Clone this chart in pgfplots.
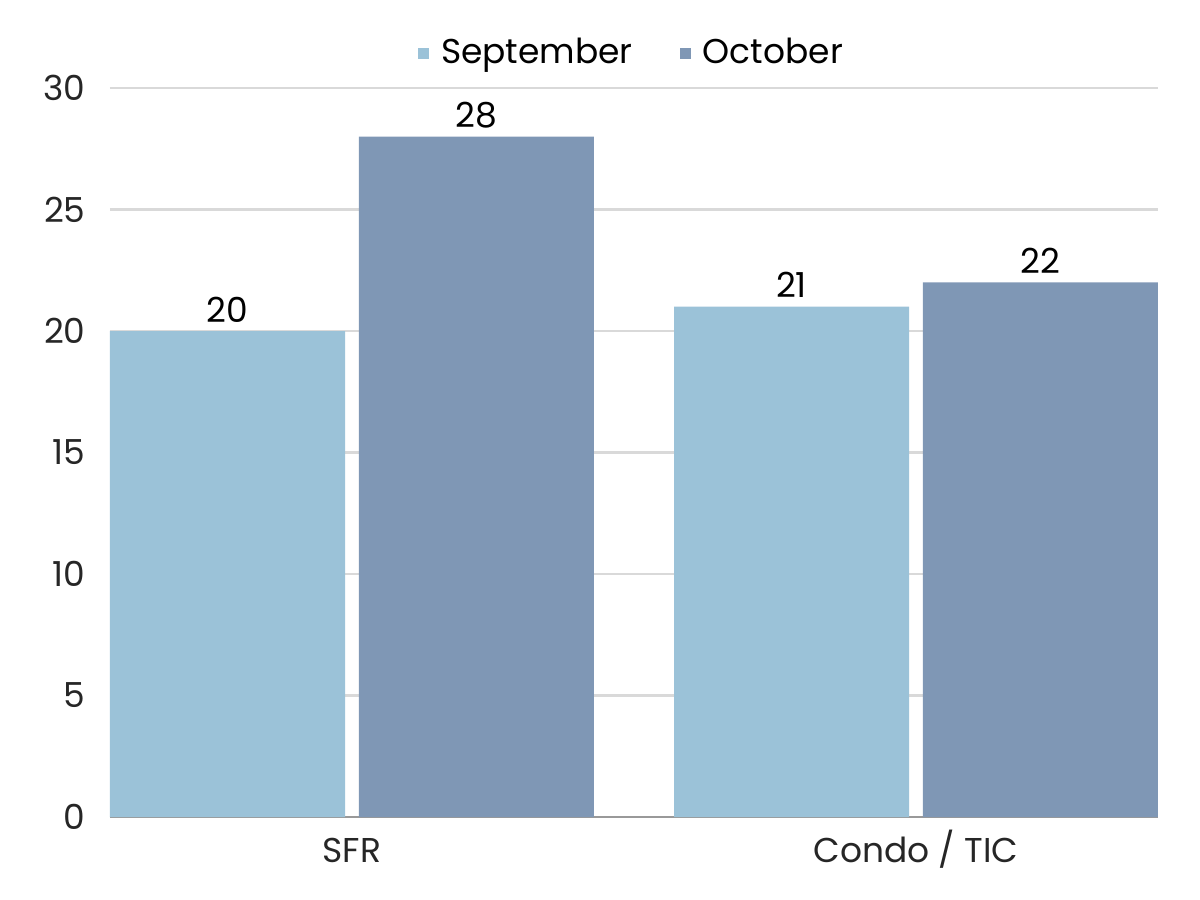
\documentclass[border=0pt]{standalone}
\usepackage{fontspec}
\setmainfont{Poppins}
\usepackage{pgfplots}
\pgfplotsset{compat=1.18}
\definecolor{sepc}{HTML}{9BC2D8}
\definecolor{octc}{HTML}{7F97B5}
\begin{document}
\begin{tikzpicture}
\begin{axis}[name=ax, scale only axis, width=10.48cm, height=7.29cm,
  xmin=-0.429, xmax=1.429, ymin=0, ymax=30,
  ytick={0,5,...,30}, xtick={0,1}, xticklabels={SFR, Condo / TIC},
  ymajorgrids, grid style={draw=black!15, line width=0.6pt},
  axis lines=left, y axis line style={draw=none}, x axis line style={draw=black!40, line width=0.8pt, -},
  major tick length=0pt,
  /pgf/number format/assume math mode=true,
  tick label style={font=\fontsize{9.8}{12}\selectfont, text=black!85},
  yticklabel style={xshift=-0.12cm},
  xticklabel style={yshift=-0.07cm, text height=0.75em, text depth=0.25em},
  ybar, bar width=0.4167,
  nodes near coords, every node near coord/.append style={font=\fontsize{9.8}{12}\selectfont, text=black, yshift=-1pt},
  legend style={at={(0.5,1)}, anchor=south, yshift=0.04cm, draw=none, fill=none, legend columns=2,
    font=\fontsize{9.8}{12}\selectfont,
    /tikz/every even column/.append style={column sep=0.4cm}},
  legend image code/.code={\fill[#1] (0cm,-0.055cm) rectangle (0.11cm,0.055cm); \path (0.16cm,0);},
]
\addplot[fill=sepc, draw=none, bar shift=-0.2207] coordinates {(0,20) (1,21)};
\addplot[fill=octc, draw=none, bar shift=0.2207] coordinates {(0,28) (1,22)};
\legend{September, October}
\end{axis}
\path (ax.south west) ++(-1.1cm,-0.83cm);
\path (ax.north east) ++(0.42cm,0.88cm);
\end{tikzpicture}
\end{document}
